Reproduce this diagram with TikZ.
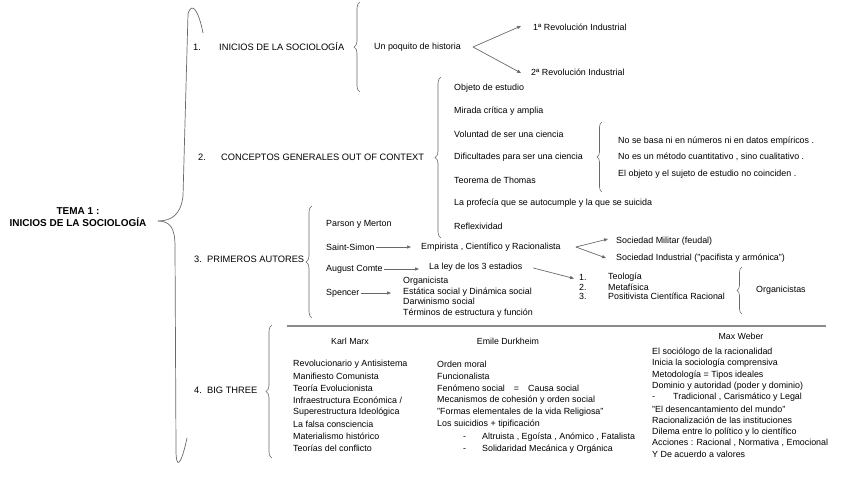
\documentclass[tikz,border=0pt]{standalone}
\usepackage{fontspec}
\setmainfont{Liberation Sans}
\usetikzlibrary{arrows.meta,decorations.pathreplacing,positioning}
\definecolor{lnegray}{RGB}{105,105,105}
\definecolor{rulegray}{RGB}{140,140,140}

\begin{document}
\begin{tikzpicture}[x=1pt,y=-1pt,
  sec/.style={anchor=west, inner sep=1pt, font=\fontsize{9.3}{11}\selectfont},
  item/.style={anchor=west, inner sep=1pt, font=\fontsize{8.9}{10.5}\selectfont},
  head/.style={inner sep=1pt, font=\fontsize{8.8}{10.5}\selectfont},
  arr/.style={-{Triangle[length=4pt,width=3.2pt]}, lnegray, line width=0.7pt},
  brc/.style={decorate, decoration={brace, amplitude=#1}, lnegray, line width=0.6pt},
  brc/.default=6pt]
\useasboundingbox (0,0) rectangle (848,477);

% Main title and the big brace
\node[align=center, inner sep=1pt, font=\fontsize{10}{12}\selectfont\bfseries] (tema) at (78,217) {TEMA 1 :\\INICIOS DE LA SOCIOLOGÍA};
\coordinate (tip) at (158,221);
\draw[lnegray, line width=0.7pt] (203,33) .. controls (199,12) and (192,0) .. (188,14) -- (183,196) .. controls (181,214) and (172,221) .. (tip);
\draw[lnegray, line width=0.7pt] (tip) .. controls (170,221) and (175,228) .. (175,246) -- (176,450) .. controls (176,470) and (181,466) .. (187,438);

% 1. Inicios de la sociologia
\node[sec] (n1) at (192,47) {1.};
\node[sec] (s1) at (218,47) {INICIOS DE LA SOCIOLOGÍA};
\draw[brc] (360,92) -- (360,2);
\node[item] (hist) at (373,47) {Un poquito de historia};
\node[item] (rev1) at (532,27) {1ª Revolución Industrial};
\node[item] (rev2) at (530,72) {2ª Revolución Industrial};
\draw[arr] ([xshift=11pt]hist.east) -- ([xshift=-11pt,yshift=1pt]rev1.west);
\draw[arr] ([xshift=11pt]hist.east) -- ([xshift=-9pt,yshift=-1pt]rev2.west);

% 2. Conceptos generales
\node[sec] (n2) at (197,157) {2.};
\node[sec] (s2) at (220,157) {CONCEPTOS GENERALES OUT OF CONTEXT};
\draw[brc] (441,238) -- (441,77);
\foreach \t [count=\i] in {Objeto de estudio, Mirada crítica y amplia, Voluntad de ser una ciencia,
    Dificultades para ser una ciencia, Teorema de Thomas,
    La profecía que se autocumple y la que se suicida, Reflexividad}
  \node[item] (con\i) at (453,65+23*\i) {\t};
\draw[brc=5pt] (602,192) -- (602,122);
\node[item] (dif1) at (617,141) {No se basa ni en números ni en datos empíricos .};
\node[item] (dif2) at (617,157) {No es un método cuantitativo , sino cualitativo .};
\node[item] (dif3) at (617,174) {El objeto y el sujeto de estudio no coinciden .};

% 3. Primeros autores
\node[sec] (n3) at (193,259) {3.};
\node[sec] (s3) at (206,259) {PRIMEROS AUTORES};
\draw[brc] (312,318) -- (312,206);
\node[item] (parson) at (325,224) {Parson y Merton};
\node[item] (simon) at (325,247) {Saint-Simon};
\node[item] (comte) at (325,269) {August Comte};
\node[item] (spencer) at (325,293) {Spencer};
\node[item] (empir) at (420,247) {Empirista , Científico y Racionalista};
\node[item] (leyes) at (428,267) {La ley de los 3 estadios};
\node[item, anchor=north west, align=left, font=\fontsize{8.9}{10.6}\selectfont] (organ) at (402,276)
  {Organicista\\Estática social y Dinámica social\\Darwinismo social\\Términos de estructura y función};
\draw[arr] (simon) -- ([xshift=-9pt]empir.west);
\draw[arr] (comte) -- ([xshift=-9pt]comte -| leyes.west);
\draw[arr] (spencer) -- ([xshift=-11pt]spencer -| organ.west);

\node[item] (milit) at (615,241) {Sociedad Militar (feudal)};
\node[item] (indus) at (615,258) {Sociedad Industrial ("pacifista y armónica")};
\draw[arr] ([xshift=14pt]empir.east) -- ([xshift=-7pt,yshift=2pt]milit.west);
\draw[arr] ([xshift=14pt]empir.east) -- ([xshift=-9pt]indus.west);

\foreach \t [count=\i] in {Teología, Metafísica, Positivista Científica Racional} {
  \node[item] (num\i) at (578,268+9.5*\i) {\i.};
  \node[item] (est\i) at (607,268+9.5*\i) {\t};
}
\draw[arr] ([xshift=10pt,yshift=-1pt]leyes.east) -- ([xshift=-4pt,yshift=-1pt]num1.west);
\draw[brc=5pt] (742,314) -- (742,267);
\node[item] (orgs) at (755,290) {Organicistas};

% 4. Big three
\node[sec] (n4) at (193,390) {4.};
\node[sec] (s4) at (206,390) {BIG THREE};
\draw[brc] (272,458) -- (272,325);
\coordinate (rulea) at (287,326);
\coordinate (ruleb) at (826,326);
\draw[rulegray, line width=1.6pt] (rulea) -- (ruleb);

\node[head] (marx) at (350,341) {Karl Marx};
\foreach \t [count=\i] in {Revolucionario y Antisistema, Manifiesto Comunista, Teoría Evolucionista,
    Infraestructura Económica /, Superestructura Ideológica, La falsa consciencia,
    Materialismo histórico, Teorías del conflicto}
  \node[item] (mx\i) at (292,351.9+12.1*\i) {\t};

\node[head] (durk) at (508,341) {Emile Durkheim};
\foreach \t [count=\i] in {Orden moral, Funcionalista, Fenómeno social\hspace{9pt}=\hspace{9pt}Causa social,
    Mecanismos de cohesión y orden social, "Formas elementales de la vida Religiosa",
    Los suicidios + tipificación}
  \node[item] (dk\i) at (436,351.9+12.1*\i) {\t};
\node[item] (dk7) at (462,437) {-\hspace{16pt}Altruista , Egoísta , Anómico , Fatalista};
\node[item] (dk8) at (462,449) {-\hspace{16pt}Solidaridad Mecánica y Orgánica};

\node[head] (weber) at (741,336) {Max Weber};
\foreach \t [count=\i] in {El sociólogo de la racionalidad, Inicia la sociología comprensiva,
    Metodología = Tipos ideales, Dominio y autoridad (poder y dominio),
    {-\hspace{18pt}Tradicional , Carismático y Legal}, "El desencantamiento del mundo",
    Racionalización de las instituciones, Dilema entre lo político y lo científico,
    Acciones : Racional {,} Normativa {,} Emocional, Y De acuerdo a valores}
  \node[item] (wb\i) at (651,340.6+11.4*\i) {\t};
\end{tikzpicture}
\end{document}
